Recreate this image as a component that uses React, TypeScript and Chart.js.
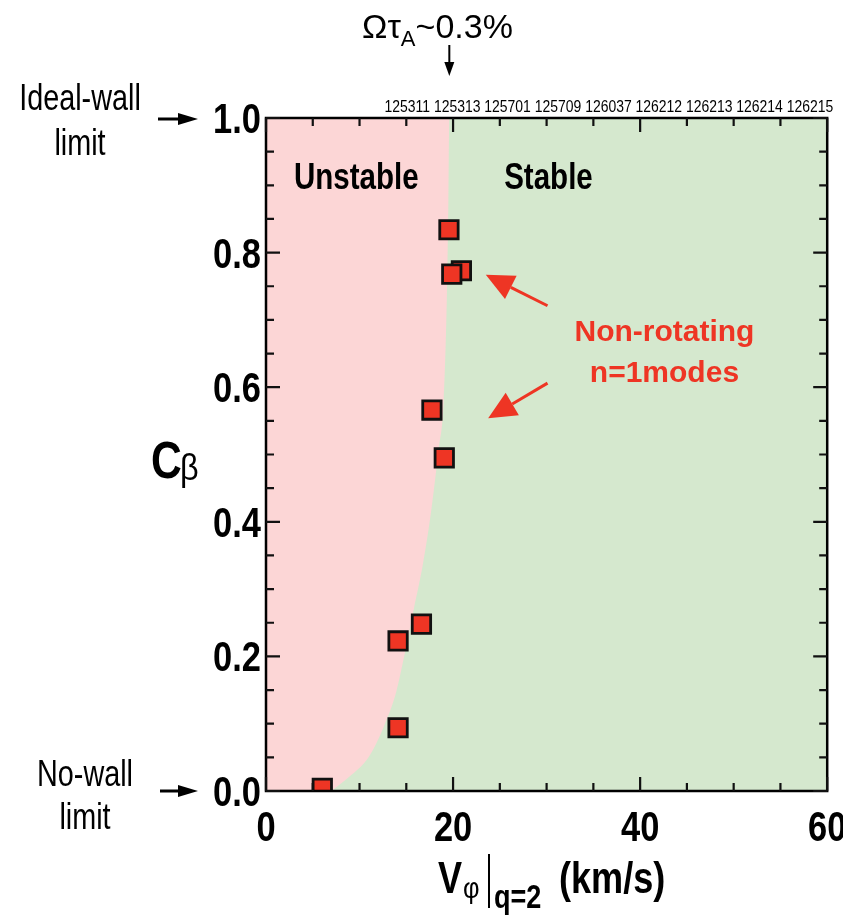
import React, { useEffect, useRef } from 'react';
import { Chart, registerables } from 'chart.js';

Chart.register(...registerables);

// ---- data ----
const shotNumbers = ['125311', '125313', '125701', '125709', '126037', '126212', '126213', '126214', '126215'];
// measured points (V_phi at q=2 in km/s, C_beta)
const velocity = [19.56, 20.89, 19.86, 17.74, 19.06, 14.12, 16.62, 14.12, 6.02];
const cBeta = [0.834, 0.773, 0.768, 0.566, 0.495, 0.223, 0.248, 0.094, 0.004];
// stability boundary (stable to the right / below)
const boundaryV = [7.0, 8.9, 11.0, 12.6, 13.9, 14.85, 15.8, 16.75, 17.6, 18.45, 19.0, 19.33, 19.5, 19.6, 60];
const boundaryC = [0, 0.021, 0.051, 0.096, 0.146, 0.205, 0.27, 0.335, 0.41, 0.507, 0.581, 0.73, 0.878, 1.0, 1.0];
const xMajorTicks = [0, 20, 40, 60];
const yMajorTicks = [0, 0.2, 0.4, 0.6, 0.8, 1.0];
const xTickLabels = ['0', '20', '40', '60'];
const yTickLabels = ['0.0', '0.2', '0.4', '0.6', '0.8', '1.0'];

const FAMILY = "'Liberation Sans', Arial, Helvetica, sans-serif";
const RED = '#EE3524';
const PINK = '#FCD6D6';
const GREEN = '#D5E8CE';

function txt(ctx: CanvasRenderingContext2D, s: string, x: number, y: number, size: number, weight: string,
  align: CanvasTextAlign = 'center', sx = 1, color = '#000', baseline: CanvasTextBaseline = 'alphabetic'): number {
  ctx.save();
  ctx.translate(x, y);
  ctx.scale(sx, 1);
  ctx.font = `${weight} ${size}px ${FAMILY}`;
  ctx.textAlign = align;
  ctx.textBaseline = baseline;
  ctx.fillStyle = color;
  ctx.fillText(s, 0, 0);
  const w = ctx.measureText(s).width * sx;
  ctx.restore();
  return w;
}

function arrow(ctx: CanvasRenderingContext2D, x1: number, y1: number, x2: number, y2: number,
  headLen: number, headHalf: number, lw: number, color: string) {
  const ang = Math.atan2(y2 - y1, x2 - x1);
  const bx = x2 - headLen * Math.cos(ang);
  const by = y2 - headLen * Math.sin(ang);
  ctx.save();
  ctx.strokeStyle = color;
  ctx.fillStyle = color;
  ctx.lineWidth = lw;
  ctx.beginPath();
  ctx.moveTo(x1, y1);
  ctx.lineTo(bx, by);
  ctx.stroke();
  ctx.beginPath();
  ctx.moveTo(x2, y2);
  ctx.lineTo(bx + headHalf * Math.sin(ang), by - headHalf * Math.cos(ang));
  ctx.lineTo(bx - headHalf * Math.sin(ang), by + headHalf * Math.cos(ang));
  ctx.closePath();
  ctx.fill();
  ctx.restore();
}

const isMultiple = (v: number, step: number) => Math.abs(v / step - Math.round(v / step)) < 1e-6;

const overlay = {
  id: 'overlay',
  afterDraw(chart: any) {
    const { ctx, chartArea: a, scales } = chart;
    const x = scales.x;
    const y = scales.y;
    ctx.save();
    // frame
    ctx.strokeStyle = '#000';
    ctx.lineWidth = 2.5;
    ctx.strokeRect(a.left, a.top, a.right - a.left, a.bottom - a.top);
    // inward ticks on all four sides
    ctx.lineWidth = 2.2;
    ctx.strokeStyle = '#111';
    x.ticks.forEach((t: any) => {
      const px = x.getPixelForValue(t.value);
      const len = isMultiple(t.value, 20) ? 14 : 8;
      ctx.beginPath();
      ctx.moveTo(px, a.bottom); ctx.lineTo(px, a.bottom - len);
      ctx.moveTo(px, a.top); ctx.lineTo(px, a.top + len);
      ctx.stroke();
    });
    y.ticks.forEach((t: any) => {
      const py = y.getPixelForValue(t.value);
      const len = isMultiple(t.value, 0.2) ? 14 : 8;
      ctx.beginPath();
      ctx.moveTo(a.left, py); ctx.lineTo(a.left + len, py);
      ctx.moveTo(a.right, py); ctx.lineTo(a.right - len, py);
      ctx.stroke();
    });
    // tick labels
    xMajorTicks.forEach((v, i) => {
      txt(ctx, xTickLabels[i], x.getPixelForValue(v), a.bottom + 50, 42, 'bold', 'center', 0.82);
    });
    yMajorTicks.forEach((v, i) => {
      txt(ctx, yTickLabels[i], a.left - 5, y.getPixelForValue(v) + 15, 42, 'bold', 'right', 0.82);
    });
    // shot numbers along top
    txt(ctx, shotNumbers.join(' '), a.right + 6, a.top - 6, 17, 'normal', 'right', 0.82);
    // region labels
    txt(ctx, 'Unstable', x.getPixelForValue(9.65), y.getPixelForValue(0.914) + 13, 36, 'bold', 'center', 0.82);
    txt(ctx, 'Stable', x.getPixelForValue(30.2), y.getPixelForValue(0.914) + 13, 36, 'bold', 'center', 0.82);
    // annotation
    txt(ctx, 'Non-rotating', x.getPixelForValue(42.6), y.getPixelForValue(0.685) + 11, 30, 'bold', 'center', 1, RED);
    txt(ctx, 'n=1modes', x.getPixelForValue(42.6), y.getPixelForValue(0.624) + 11, 30, 'bold', 'center', 1, RED);
    arrow(ctx, x.getPixelForValue(30.1), y.getPixelForValue(0.721), x.getPixelForValue(23.5), y.getPixelForValue(0.767), 28, 13, 3, RED);
    arrow(ctx, x.getPixelForValue(30.1), y.getPixelForValue(0.606), x.getPixelForValue(23.75), y.getPixelForValue(0.554), 28, 13, 3, RED);
    // wall limits
    const y1 = y.getPixelForValue(1.0);
    const y0 = y.getPixelForValue(0.0);
    txt(ctx, 'Ideal-wall', 80, 110, 36, 'normal', 'center', 0.8);
    txt(ctx, 'limit', 80, 155, 36, 'normal', 'center', 0.8);
    arrow(ctx, 158, y1 + 1, 198, y1 + 1, 20, 6, 3, '#000');
    txt(ctx, 'No-wall', 85, 786, 36, 'normal', 'center', 0.8);
    txt(ctx, 'limit', 85, 829, 36, 'normal', 'center', 0.8);
    arrow(ctx, 160, y0, 198, y0, 20, 6, 3, '#000');
    // top rotation marker
    const xr = x.getPixelForValue(19.6);
    let cx = 362;
    cx += txt(ctx, 'Ωτ', cx, 38, 34, 'normal', 'left', 1);
    cx += txt(ctx, 'A', cx, 46, 22, 'normal', 'left', 1);
    txt(ctx, '~0.3%', cx, 38, 34, 'normal', 'left', 1);
    arrow(ctx, xr, 45, xr, 76, 14, 5, 2, '#000');
    // axis titles
    txt(ctx, 'C', 151, 478, 52, 'bold', 'left', 0.82);
    txt(ctx, 'β', 180, 480, 36, 'normal', 'left', 0.9);
    txt(ctx, 'V', 438, 893, 44, 'bold', 'left', 0.82);
    txt(ctx, 'φ', 463, 898, 30, 'normal', 'left', 0.85);
    ctx.lineWidth = 2;
    ctx.strokeStyle = '#000';
    ctx.beginPath();
    ctx.moveTo(489, 854); ctx.lineTo(489, 908);
    ctx.stroke();
    txt(ctx, 'q=2', 494, 908, 33, 'bold', 'left', 0.82);
    txt(ctx, '(km/s)', 559, 893, 44, 'bold', 'left', 0.82);
    ctx.restore();
  },
};

export default function App() {
  const ref = useRef<HTMLCanvasElement>(null);
  useEffect(() => {
    document.body.style.margin = '0';
    const points = velocity.map((v, i) => ({ x: v, y: cBeta[i] }));
    const boundary = boundaryV.map((v, i) => ({ x: v, y: boundaryC[i] }));
    const chart = new Chart(ref.current as HTMLCanvasElement, {
      type: 'scatter',
      data: {
        datasets: [
          {
            type: 'scatter',
            data: points,
            pointStyle: 'rect',
            radius: 13,
            hoverRadius: 13,
            backgroundColor: RED,
            borderColor: '#111',
            borderWidth: 2.8,
            order: 1,
            clip: 0,
          } as any,
          {
            type: 'line',
            data: boundary,
            borderWidth: 0,
            pointRadius: 0,
            fill: 'origin',
            backgroundColor: GREEN,
            cubicInterpolationMode: 'monotone',
            order: 2,
            clip: 0,
          } as any,
          {
            type: 'line',
            data: [{ x: 0, y: 1 }, { x: 60, y: 1 }],
            borderWidth: 0,
            pointRadius: 0,
            fill: 'origin',
            backgroundColor: PINK,
            order: 3,
            clip: 0,
          } as any,
        ],
      },
      options: {
        animation: false,
        responsive: false,
        events: [],
        layout: { padding: { left: 0, right: 11, top: 118, bottom: 0 } },
        plugins: { legend: { display: false }, tooltip: { enabled: false } },
        scales: {
          x: {
            type: 'linear',
            min: 0,
            max: 60,
            ticks: { stepSize: 5, display: false },
            grid: { display: false },
            border: { display: false },
            afterFit: (s: any) => { s.height = 128; },
          },
          y: {
            type: 'linear',
            min: 0,
            max: 1,
            ticks: { stepSize: 0.05, display: false },
            grid: { display: false },
            border: { display: false },
            afterFit: (s: any) => { s.width = 266; },
          },
        },
      },
      plugins: [overlay],
    });
    return () => chart.destroy();
  }, []);
  return (
    <div style={{ width: 843, height: 919, position: 'relative' }}>
      <canvas ref={ref} width={843} height={919} style={{ display: 'block' }} />
    </div>
  );
}
